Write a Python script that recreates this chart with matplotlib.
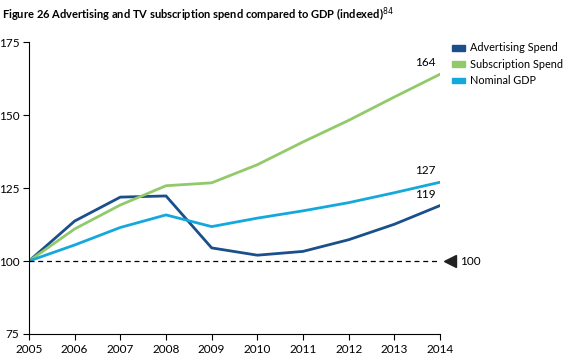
import matplotlib.pyplot as plt
from matplotlib.patches import Patch

years = [2005, 2006, 2007, 2008, 2009, 2010, 2011, 2012, 2013, 2014]
advertising = [100, 113.7, 121.9, 122.3, 104.5, 102.0, 103.3, 107.3, 112.6, 119]
subscription = [100, 111.0, 119.2, 125.8, 126.8, 133.0, 140.8, 148.2, 156.2, 164]
gdp = [100, 105.5, 111.5, 115.8, 111.8, 114.7, 117.2, 120.0, 123.4, 127]

c_adv = "#1a4f8b"
c_sub = "#92c96a"
c_gdp = "#14a8dc"

plt.rcParams["font.family"] = ["Lato", "DejaVu Sans"]

fig = plt.figure(figsize=(5.63, 3.63), dpi=100)
ax = fig.add_axes([0.0515, 0.0799, 0.73, 0.804])

ax.plot(years, advertising, color=c_adv, lw=2)
ax.plot(years, subscription, color=c_sub, lw=2)
ax.plot(years, gdp, color=c_gdp, lw=2)
ax.axhline(100, color="black", lw=0.9, ls=(0, (4, 3)), xmin=0, xmax=1)

ax.set_xlim(2005, 2014)
ax.set_ylim(75, 175)
ax.set_xticks(years)
ax.set_yticks([75, 100, 125, 150, 175])
ax.tick_params(labelsize=8.5, length=4, width=0.8, pad=3)
for s in ["top", "right"]:
    ax.spines[s].set_visible(False)

# end labels
ax.text(2014 - 0.1, subscription[-1] + 2, "164", fontsize=8.5, ha="right", va="bottom")
ax.text(2014 - 0.1, gdp[-1] + 2, "127", fontsize=8.5, ha="right", va="bottom")
ax.text(2014 - 0.1, advertising[-1] + 2, "119", fontsize=8.5, ha="right", va="bottom")

# 100 marker
ax.plot([2014.22], [100], marker="<", color="#222222", ms=9, clip_on=False)
ax.text(2014.45, 100, "100", fontsize=8.5, va="center", ha="left")

handles = [Patch(color=c_adv), Patch(color=c_sub), Patch(color=c_gdp)]
fig.legend(handles, ["Advertising Spend", "Subscription Spend", "Nominal GDP"],
           loc="upper left", bbox_to_anchor=(0.795, 0.895), frameon=False,
           fontsize=7.8, handlelength=1.2, handleheight=0.45, labelspacing=0.5,
           handletextpad=0.5, borderaxespad=0.2, borderpad=0.2)

fig.text(0.003, 0.985, "Figure 26 Advertising and TV subscription spend compared to GDP (indexed)$^{84}$",
         fontsize=8, fontweight="bold", va="top", ha="left")

fig.savefig("out.png", dpi=100)
